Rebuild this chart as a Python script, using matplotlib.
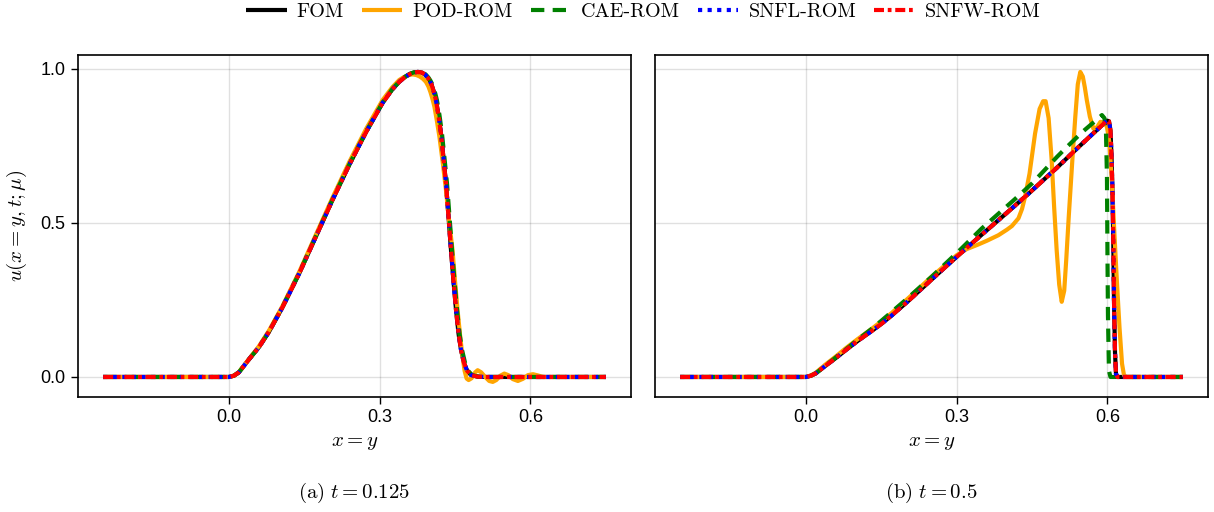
import numpy as np
import matplotlib.pyplot as plt

plt.rcParams['mathtext.fontset'] = 'cm'
plt.rcParams['font.family'] = 'Liberation Sans'
plt.rcParams['axes.unicode_minus'] = False

# ---- t = 0.125 ----
x_fom_a = [-0.25, -0.02, 0.0, 0.01, 0.02, 0.04, 0.06, 0.08, 0.107, 0.14, 0.173, 0.206, 0.24,
           0.273, 0.306, 0.325, 0.339, 0.35, 0.36, 0.368, 0.376, 0.384, 0.39, 0.395, 0.399,
           0.403, 0.406, 0.409, 0.412, 0.417, 0.422, 0.427, 0.432, 0.437, 0.442, 0.447, 0.452,
           0.457, 0.462, 0.468, 0.474, 0.482, 0.495, 0.51, 0.75]
u_fom_a = [0.0, 0.0, 0.0, 0.004, 0.015, 0.057, 0.097, 0.147, 0.227, 0.336, 0.455, 0.574, 0.69,
           0.795, 0.89, 0.933, 0.958, 0.973, 0.983, 0.988, 0.99, 0.988, 0.982, 0.973, 0.963,
           0.95, 0.935, 0.918, 0.898, 0.85, 0.79, 0.71, 0.628, 0.52, 0.411, 0.31, 0.217,
           0.14, 0.087, 0.045, 0.02, 0.006, 0.001, 0.0, 0.0]

x_pod_a = [-0.25, 0.0, 0.01, 0.02, 0.04, 0.06, 0.08, 0.107, 0.14, 0.173, 0.206, 0.24, 0.273,
           0.306, 0.325, 0.339, 0.348, 0.355, 0.361, 0.366, 0.373, 0.38, 0.386, 0.392, 0.397,
           0.401, 0.405, 0.409, 0.414, 0.419, 0.426, 0.432, 0.438, 0.445, 0.45, 0.455, 0.46,
           0.465, 0.469, 0.473, 0.477, 0.483, 0.49, 0.495, 0.502, 0.51, 0.518, 0.525, 0.532,
           0.54, 0.548, 0.556, 0.565, 0.575, 0.585, 0.595, 0.605, 0.615, 0.625, 0.75]
u_pod_a = [0.0, 0.0, 0.004, 0.016, 0.058, 0.1, 0.151, 0.231, 0.341, 0.461, 0.581, 0.699, 0.805,
           0.899, 0.94, 0.964, 0.973, 0.978, 0.981, 0.982, 0.98, 0.975, 0.968, 0.958, 0.943,
           0.925, 0.903, 0.877, 0.83, 0.779, 0.69, 0.606, 0.51, 0.411, 0.31, 0.217, 0.135,
           0.065, 0.02, -0.005, -0.01, -0.004, 0.015, 0.022, 0.015, 0.0, -0.013, -0.016, -0.01,
           0.004, 0.011, 0.006, -0.007, -0.013, -0.006, 0.006, 0.009, 0.005, 0.0, 0.0]

x_cae_a = [-0.25, -0.02, 0.0, 0.01, 0.02, 0.04, 0.06, 0.08, 0.107, 0.14, 0.173, 0.206, 0.24,
           0.273, 0.306, 0.325, 0.339, 0.35, 0.36, 0.369, 0.378, 0.386, 0.392, 0.397, 0.401,
           0.405, 0.408, 0.411, 0.414, 0.419, 0.424, 0.429, 0.434, 0.439, 0.444, 0.449, 0.454,
           0.459, 0.464, 0.47, 0.476, 0.484, 0.497, 0.51, 0.75]
u_cae_a = [0.0, 0.0, 0.0, 0.004, 0.015, 0.057, 0.097, 0.147, 0.228, 0.337, 0.456, 0.575, 0.691,
           0.796, 0.891, 0.934, 0.959, 0.974, 0.984, 0.989, 0.99, 0.988, 0.981, 0.972, 0.962,
           0.949, 0.935, 0.918, 0.898, 0.85, 0.79, 0.71, 0.628, 0.52, 0.411, 0.31, 0.217,
           0.14, 0.087, 0.045, 0.02, 0.006, 0.001, 0.0, 0.0]

x_snfl_a = x_fom_a
u_snfl_a = list(u_fom_a)
x_snfw_a = x_fom_a
u_snfw_a = list(u_fom_a)

# ---- t = 0.5 ----
x_fom_b = [-0.25, -0.01, 0.0, 0.01, 0.02, 0.038, 0.06, 0.08, 0.104, 0.13, 0.15, 0.171, 0.204,
           0.25, 0.3, 0.35, 0.4, 0.443, 0.5, 0.543, 0.57, 0.599, 0.603, 0.606, 0.608, 0.61,
           0.611, 0.612, 0.613, 0.615, 0.617, 0.62, 0.75]
u_fom_b = [0.0, 0.0, 0.0, 0.004, 0.012, 0.035, 0.062, 0.088, 0.118, 0.148, 0.172, 0.2, 0.247,
           0.316, 0.39, 0.462, 0.533, 0.595, 0.68, 0.747, 0.788, 0.832, 0.83, 0.8, 0.72, 0.6,
           0.5, 0.39, 0.25, 0.08, 0.01, 0.0, 0.0]

x_pod_b = [-0.25, -0.01, 0.0, 0.01, 0.02, 0.038, 0.06, 0.08, 0.104, 0.13, 0.15, 0.171, 0.204,
           0.25, 0.3, 0.32, 0.343, 0.36, 0.383, 0.4, 0.41, 0.423, 0.43, 0.436, 0.445, 0.456,
           0.465, 0.472, 0.477, 0.483, 0.489, 0.494, 0.499, 0.504, 0.509, 0.514, 0.518, 0.523,
           0.53, 0.536, 0.541, 0.546, 0.551, 0.555, 0.559, 0.565, 0.572, 0.579, 0.586, 0.593,
           0.599, 0.604, 0.609, 0.614, 0.619, 0.624, 0.629, 0.633, 0.638, 0.75]
u_pod_b = [0.0, 0.0, 0.0, 0.005, 0.014, 0.039, 0.067, 0.094, 0.124, 0.155, 0.18, 0.208, 0.256,
           0.325, 0.395, 0.415, 0.43, 0.442, 0.46, 0.478, 0.49, 0.515, 0.545, 0.584, 0.66, 0.79,
           0.87, 0.895, 0.895, 0.84, 0.704, 0.55, 0.411, 0.3, 0.244, 0.28, 0.38, 0.52,
           0.7, 0.844, 0.95, 0.99, 0.975, 0.94, 0.898, 0.845, 0.806, 0.81, 0.828, 0.826,
           0.812, 0.76, 0.628, 0.46, 0.303, 0.16, 0.043, 0.005, 0.0, 0.0]

x_cae_b = [-0.25, -0.01, 0.0, 0.01, 0.02, 0.04, 0.06, 0.08, 0.104, 0.13, 0.15, 0.2, 0.25, 0.304,
           0.35, 0.4165, 0.45, 0.5, 0.519, 0.55, 0.575, 0.589, 0.594, 0.597, 0.599, 0.6, 0.601,
           0.603, 0.606, 0.75]
u_cae_b = [0.0, 0.0, 0.0, 0.004, 0.012, 0.038, 0.064, 0.09, 0.122, 0.155, 0.182, 0.252, 0.325,
           0.408, 0.482, 0.578, 0.628, 0.715, 0.746, 0.795, 0.83, 0.85, 0.84, 0.8, 0.65, 0.4,
           0.2, 0.02, 0.0, 0.0]

x_snfl_b = x_fom_b
u_snfl_b = list(u_fom_b)
x_snfw_b = x_fom_b
u_snfw_b = list(u_fom_b)

labels = ['FOM', 'POD-ROM', 'CAE-ROM', 'SNFL-ROM', 'SNFW-ROM']
captions = [r'$\mathrm{(a)}\ t = 0.125$', r'$\mathrm{(b)}\ t = 0.5$']
xticks = [0.0, 0.3, 0.6]
yticks = [0.0, 0.5, 1.0]

panels = [
    [(x_fom_a, u_fom_a), (x_pod_a, u_pod_a), (x_cae_a, u_cae_a), (x_snfl_a, u_snfl_a), (x_snfw_a, u_snfw_a)],
    [(x_fom_b, u_fom_b), (x_pod_b, u_pod_b), (x_cae_b, u_cae_b), (x_snfl_b, u_snfl_b), (x_snfw_b, u_snfw_b)],
]

styles = [
    dict(color='black', ls='-'),
    dict(color='orange', ls='-'),
    dict(color='green', ls=(0, (3.2, 2.0))),
    dict(color='blue', ls=(0, (1.0, 1.3))),
    dict(color='red', ls=(0, (2.4, 0.9, 0.9, 0.9))),
]

fig = plt.figure(figsize=(12.14, 5.12), dpi=100)
ax_l = fig.add_axes([78 / 1214, 1 - 397 / 512, 553 / 1214, 342 / 512])
ax_r = fig.add_axes([655 / 1214, 1 - 397 / 512, 553 / 1214, 342 / 512])

for i, ax in enumerate([ax_l, ax_r]):
    for (xs, us), st, lab in zip(panels[i], styles, labels):
        ax.plot(xs, us, lw=3.0, label=lab, solid_capstyle='butt', dash_capstyle='butt',
                solid_joinstyle='round', **st)
    ax.set_xlim(-0.3, 0.8)
    ax.set_ylim(-0.065, 1.045)
    ax.set_xticks(xticks)
    ax.set_xticklabels([f'{v:.1f}' for v in xticks])
    ax.set_yticks(yticks)
    ax.grid(True, color='black', alpha=0.12, lw=1.0)
    ax.set_axisbelow(True)
    ax.tick_params(direction='out', length=5, width=1, labelsize=13, pad=4)
    for sp in ax.spines.values():
        sp.set_linewidth(1.2)
    ax.set_xlabel(r'$x = y$', fontsize=15, labelpad=5)
    ax.text(0.5, -0.28, captions[i], transform=ax.transAxes, ha='center', va='center', fontsize=15)

ax_l.set_yticklabels([f'{v:.1f}' for v in yticks])
ax_l.set_ylabel(r'$u(x = y, t; \mu)$', fontsize=15, labelpad=8)
ax_r.tick_params(axis='y', left=False, labelleft=False)

handles, labs = ax_l.get_legend_handles_labels()
fig.legend(handles, labs, loc='center', bbox_to_anchor=(0.53, 0.977), ncol=5, frameon=False,
           prop={'family': 'cmr10', 'size': 14.5}, handlelength=2.0, columnspacing=0.9,
           handletextpad=0.5)

fig.savefig('out.png', dpi=100)
